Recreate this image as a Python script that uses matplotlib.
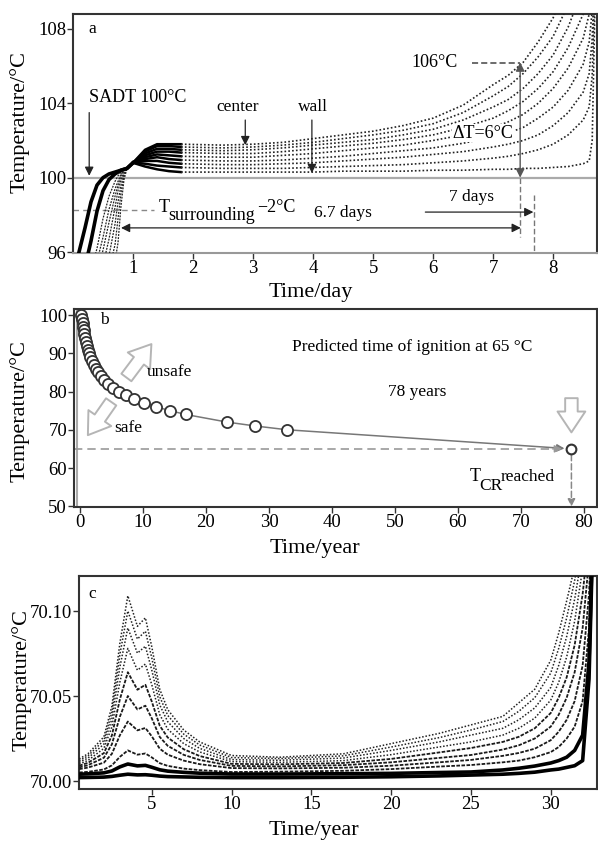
import matplotlib
matplotlib.use('Agg')
import matplotlib.pyplot as plt
from matplotlib.patches import FancyArrowPatch

plt.rcParams['font.family'] = ['Liberation Serif', 'DejaVu Serif']

# ---------------- Panel a data (time in days, temperature in °C) ----------------
time_a = [0.1, 0.2, 0.3, 0.4, 0.5, 0.6, 0.7, 0.75, 0.8, 0.85, 0.9, 1.0,
          1.2, 1.4, 1.6, 1.8, 2.5, 3.0, 3.5, 4.0, 4.5, 5.0, 5.5, 6.0, 6.5,
          7.0, 7.25, 7.5, 7.75, 8.0, 8.25, 8.5, 8.6, 8.65, 8.7]
temp_a_center = [90.0, 90.8, 91.5, 92.2, 93.2, 94.3, 95.5, 96.5, 98.5, 99.9, 100.5, 100.8,
                 101.5, 101.8, 101.8, 101.8, 101.75, 101.8, 101.9, 102.1, 102.3, 102.5, 102.8, 103.2, 103.9,
                 105.0, 105.5, 106.2, 107.3, 108.6, 110.5, 113.0, 114.0, 115.0, 118.0]
temp_a_1 = [90.5, 91.3, 92.0, 92.7, 93.8, 95.0, 96.4, 97.8, 99.2, 100.1, 100.5, 100.8,
            101.4, 101.7, 101.7, 101.65, 101.6, 101.65, 101.75, 101.9, 102.1, 102.3, 102.55, 102.9, 103.5,
            104.4, 104.9, 105.6, 106.5, 107.6, 109.3, 111.5, 113.0, 114.0, 117.0]
temp_a_2 = [91.0, 91.8, 92.5, 93.3, 94.5, 95.8, 97.5, 98.7, 99.6, 100.2, 100.5, 100.8,
            101.3, 101.55, 101.55, 101.5, 101.45, 101.5, 101.6, 101.75, 101.9, 102.05, 102.3, 102.6, 103.1,
            103.8, 104.2, 104.8, 105.6, 106.6, 108.1, 110.2, 111.5, 113.0, 116.0]
temp_a_3 = [91.5, 92.3, 93.0, 94.0, 95.3, 96.7, 98.4, 99.3, 99.9, 100.3, 100.5, 100.8,
            101.2, 101.4, 101.4, 101.35, 101.3, 101.3, 101.4, 101.55, 101.7, 101.85, 102.05, 102.3, 102.7,
            103.2, 103.6, 104.1, 104.8, 105.7, 107.0, 108.8, 110.2, 112.0, 115.0]
temp_a_4 = [92.0, 92.8, 93.6, 94.8, 96.1, 97.6, 99.0, 99.6, 100.1, 100.4, 100.5, 100.8,
            101.1, 101.25, 101.2, 101.15, 101.1, 101.1, 101.2, 101.3, 101.45, 101.6, 101.75, 102.0, 102.3,
            102.7, 103.0, 103.4, 104.0, 104.8, 105.9, 107.5, 108.8, 110.5, 114.0]
temp_a_5 = [92.5, 93.3, 94.2, 95.5, 96.8, 98.3, 99.4, 99.8, 100.2, 100.4, 100.5, 100.8,
            101.0, 101.1, 101.0, 100.95, 100.9, 100.9, 100.95, 101.05, 101.15, 101.3, 101.45, 101.6, 101.85,
            102.2, 102.4, 102.7, 103.2, 103.8, 104.7, 106.1, 107.3, 109.0, 113.0]
temp_a_6 = [93.0, 94.0, 95.0, 96.2, 97.8, 99.0, 99.8, 100.1, 100.3, 100.45, 100.5, 100.8,
            100.9, 100.9, 100.8, 100.75, 100.7, 100.7, 100.75, 100.8, 100.9, 101.0, 101.1, 101.25, 101.4,
            101.65, 101.8, 102.0, 102.3, 102.8, 103.5, 104.6, 105.6, 107.5, 112.0]
temp_a_7 = [94.0, 95.2, 96.6, 98.2, 99.3, 99.9, 100.2, 100.3, 100.4, 100.45, 100.5, 100.8,
            100.75, 100.65, 100.6, 100.55, 100.5, 100.5, 100.5, 100.55, 100.6, 100.65, 100.7, 100.8, 100.9,
            101.05, 101.15, 101.3, 101.5, 101.8, 102.3, 103.1, 103.8, 105.5, 111.0]
temp_a_wall = [96.0, 97.3, 98.7, 99.6, 100.0, 100.2, 100.3, 100.35, 100.4, 100.45, 100.5, 100.8,
               100.6, 100.45, 100.35, 100.3, 100.3, 100.3, 100.3, 100.3, 100.35, 100.35, 100.35, 100.4, 100.4,
               100.45, 100.45, 100.5, 100.5, 100.55, 100.6, 100.75, 100.9, 102.0, 110.0]
curves_a = [temp_a_center, temp_a_1, temp_a_2, temp_a_3, temp_a_4,
            temp_a_5, temp_a_6, temp_a_7, temp_a_wall]

# ---------------- Panel b data (time in years, temperature in °C) ----------------
time_b = [0.2, 0.3, 0.4, 0.5, 0.6, 0.7, 0.85, 1.0, 1.1, 1.3, 1.45, 1.65, 1.9, 2.2, 2.5,
          2.8, 3.3, 3.8, 4.5, 5.3, 6.2, 7.3, 8.6, 10.2, 12.1, 14.3, 16.8, 23.4, 27.8, 32.9]
temp_b = [100, 99, 98, 97, 96, 95, 94, 93, 92, 91, 90, 89, 88, 87, 86,
          85, 84, 83, 82, 81, 80, 79, 78, 77, 76, 75, 74, 72, 71, 70]
ignition_time = 78
ignition_temp = 65

# ---------------- Panel c data (time in years, temperature in °C) ----------------
time_c = [0.45, 1, 2, 2.5, 3, 3.5, 4.1, 4.6, 5, 5.5, 6, 7, 8, 10,
          13, 17, 20, 23, 25, 27, 28, 29, 30, 30.5, 31, 31.5, 32, 32.4, 32.8]
temp_c_center = [70.013, 70.016, 70.026, 70.044, 70.081, 70.109, 70.091, 70.096, 70.079, 70.054, 70.042, 70.030, 70.023, 70.015,
                 70.014, 70.016, 70.022, 70.028, 70.033, 70.038, 70.046, 70.054, 70.071, 70.087, 70.106, 70.126, 70.150, 70.170, 70.200]
temp_c_1 = [70.012, 70.0148, 70.0239, 70.0404, 70.0744, 70.100, 70.0835, 70.0881, 70.0725, 70.0496, 70.0386, 70.0276, 70.0212, 70.0138,
            70.0132, 70.0148, 70.020, 70.0255, 70.030, 70.035, 70.041, 70.049, 70.0635, 70.078, 70.096, 70.118, 70.145, 70.165, 70.200]
temp_c_2 = [70.011, 70.0135, 70.0217, 70.0365, 70.067, 70.090, 70.0752, 70.0793, 70.0653, 70.0447, 70.0349, 70.025, 70.0192, 70.0126,
            70.0122, 70.0135, 70.018, 70.023, 70.027, 70.031, 70.036, 70.043, 70.055, 70.068, 70.085, 70.107, 70.135, 70.160, 70.200]
temp_c_3 = [70.010, 70.0121, 70.0192, 70.0319, 70.0581, 70.078, 70.0652, 70.0688, 70.0567, 70.039, 70.0305, 70.022, 70.0171, 70.0114,
            70.011, 70.012, 70.0155, 70.020, 70.023, 70.027, 70.031, 70.037, 70.0476, 70.058, 70.073, 70.094, 70.125, 70.155, 70.200]
temp_c_4 = [70.009, 70.0107, 70.0164, 70.0268, 70.048, 70.064, 70.0537, 70.0566, 70.0468, 70.0325, 70.0256, 70.0187, 70.0147, 70.0101,
            70.0098, 70.0106, 70.013, 70.0168, 70.0194, 70.023, 70.026, 70.031, 70.040, 70.049, 70.061, 70.080, 70.110, 70.145, 70.200]
temp_c_5 = [70.008, 70.0093, 70.0137, 70.0216, 70.0378, 70.050, 70.0421, 70.0443, 70.0369, 70.0259, 70.0207, 70.0154, 70.0124, 70.0089,
            70.0086, 70.0093, 70.011, 70.0136, 70.0153, 70.0185, 70.021, 70.025, 70.032, 70.039, 70.049, 70.064, 70.090, 70.130, 70.200]
temp_c_6 = [70.007, 70.0079, 70.0108, 70.016, 70.0269, 70.035, 70.0298, 70.0312, 70.0263, 70.019, 70.0155, 70.012, 70.0099, 70.0076,
            70.0074, 70.0078, 70.009, 70.011, 70.0124, 70.0148, 70.0165, 70.019, 70.024, 70.029, 70.036, 70.047, 70.068, 70.110, 70.200]
temp_c_7 = [70.005, 70.0054, 70.0068, 70.0092, 70.0142, 70.018, 70.0155, 70.0162, 70.0139, 70.0105, 70.0089, 70.0073, 70.0064, 70.0053,
            70.0055, 70.006, 70.007, 70.0085, 70.0094, 70.011, 70.012, 70.014, 70.017, 70.020, 70.025, 70.032, 70.047, 70.090, 70.200]
temp_c_8 = [70.004, 70.0042, 70.0048, 70.0059, 70.0083, 70.010, 70.0089, 70.0092, 70.0081, 70.0066, 70.0058, 70.0051, 70.0046, 70.0041,
            70.0041, 70.0043, 70.0045, 70.005, 70.0053, 70.0065, 70.0075, 70.0088, 70.0106, 70.012, 70.014, 70.018, 70.027, 70.070, 70.200]
temp_c_wall = [70.002, 70.0021, 70.0023, 70.0027, 70.0034, 70.004, 70.0036, 70.0037, 70.0034, 70.0029, 70.0026, 70.0024, 70.0022, 70.002,
               70.002, 70.0022, 70.0025, 70.003, 70.0035, 70.004, 70.0045, 70.0052, 70.0065, 70.007, 70.008, 70.009, 70.012, 70.060, 70.200]
curves_c = [temp_c_center, temp_c_1, temp_c_2, temp_c_3, temp_c_4,
            temp_c_5, temp_c_6, temp_c_7, temp_c_8, temp_c_wall]

# ---------------- Figure ----------------
W, H = 598, 841
fig = plt.figure(figsize=(W / 100, H / 100), dpi=100)

def rect(l, t, r, b):
    return [l / W, 1 - b / H, (r - l) / W, (b - t) / H]

ax_a = fig.add_axes(rect(73, 14, 597, 253))
ax_b = fig.add_axes(rect(74, 309, 597, 507))
ax_c = fig.add_axes(rect(79, 576, 597, 789))

TICK = 13.5
ANN = 12.5
LAB = 16
SPINE = '#333333'

for ax in (ax_a, ax_b, ax_c):
    for s in ax.spines.values():
        s.set_color(SPINE)
        s.set_linewidth(1.5)
    ax.tick_params(direction='out', length=4, width=1, labelsize=TICK, color=SPINE, pad=1)

# ---------- Panel a ----------
ax = ax_a
ax.set_xlim(0, 8.73)
ax.set_ylim(95.95, 108.8)
ax.set_xticks([1, 2, 3, 4, 5, 6, 7, 8])
ax.set_yticks([96, 100, 104, 108])
ax.spines['bottom'].set_color('#999999')
ax.axhline(100, color='#aaaaaa', lw=1.6, zorder=1)
i_rise = time_a.index(1.0)
i_plat = time_a.index(1.8)
n = len(curves_a)
for k, temps in enumerate(curves_a):
    # rising stage
    if k >= n - 2:
        ax.plot(time_a[:i_rise + 1], temps[:i_rise + 1], color='black', lw=2.6, zorder=3)
    else:
        ax.plot(time_a[:i_rise + 1], temps[:i_rise + 1], color='#222222', lw=0.9,
                ls=(0, (1.5, 1)), zorder=3)
    # crossing / plateau onset
    ax.plot(time_a[i_rise:i_plat + 1], temps[i_rise:i_plat + 1], color='black', lw=1.8, zorder=3)
    # later stage dotted
    ax.plot(time_a[i_plat:], temps[i_plat:], color='#222222', lw=1.2,
            ls=(0, (1, 1.3)), zorder=3)

ax.text(0.25, 108.0, 'a', fontsize=ANN, ha='left', va='center')
ax.text(0.27, 104.33, 'SADT 100°C', fontsize=ANN + 0.5, ha='left', va='center')
arr = dict(arrowstyle='-|>', color='#222222', lw=0.9, mutation_scale=13, shrinkA=0, shrinkB=0)
ax.annotate('', xy=(0.27, 100.1), xytext=(0.27, 103.5), arrowprops=arr)
ax.text(2.75, 103.8, 'center', fontsize=ANN, ha='center', va='center')
ax.annotate('', xy=(2.87, 101.75), xytext=(2.87, 103.1), arrowprops=arr)
ax.text(4.0, 103.8, 'wall', fontsize=ANN, ha='center', va='center')
ax.annotate('', xy=(3.98, 100.25), xytext=(3.98, 103.1), arrowprops=arr)

ax.plot([0, 1.35], [98.26, 98.26], color='#888888', lw=1, ls=(0, (4, 3)))
ax.text(1.42, 98.42, 'T', fontsize=ANN + 0.5, ha='left', va='center')
ax.text(1.58, 97.95, 'surrounding', fontsize=ANN + 0.5, ha='left', va='center')
ax.text(3.07, 98.42, '\u22122°C', fontsize=ANN + 0.5, ha='left', va='center')

ax.annotate('', xy=(0.8, 97.3), xytext=(7.46, 97.3),
            arrowprops=dict(arrowstyle='<|-|>', color='#222222', lw=0.9, mutation_scale=13,
                            shrinkA=0, shrinkB=0))
ax.text(4.5, 98.1, '6.7 days', fontsize=ANN, ha='center', va='center')
ax.annotate('', xy=(7.67, 98.15), xytext=(5.87, 98.15), arrowprops=arr)
ax.text(6.64, 98.97, '7 days', fontsize=ANN, ha='center', va='center')
ax.plot([7.45, 7.45], [100.0, 96.8], color='#777777', lw=1, ls=(0, (4, 2)))
ax.plot([7.68, 7.68], [99.06, 95.95], color='#777777', lw=1, ls=(0, (4, 2)))

ax.text(6.02, 106.2, '106°C', fontsize=ANN + 0.5, ha='center', va='center')
ax.plot([6.65, 7.45], [106.15, 106.15], color='#444444', lw=1.1, ls=(0, (4, 2)))
ax.annotate('', xy=(7.45, 106.2), xytext=(7.45, 100.0),
            arrowprops=dict(arrowstyle='<|-|>', color='#555555', lw=1.0, mutation_scale=13,
                            shrinkA=0, shrinkB=0))
ax.text(6.83, 102.4, '\u0394T=6°C', fontsize=ANN + 0.5, ha='center', va='center',
        bbox=dict(facecolor='white', edgecolor='none', pad=0.5))

# ---------- Panel b ----------
ax = ax_b
ax.set_xlim(-0.95, 82.06)
ax.set_ylim(49.8, 101.6)
ax.set_xticks(range(0, 81, 10))
ax.set_yticks(range(50, 101, 10))
ax.axvline(-0.45, color='#aaaaaa', lw=1.5, zorder=1)
ax.axhline(ignition_temp, xmin=0, xmax=0.93, color='#999999', lw=1.2, ls=(0, (5, 3)), zorder=1)
ax.plot(time_b, temp_b, color='#777777', lw=1.1, zorder=2)
ax.annotate('', xy=(ignition_time, ignition_temp), xytext=(time_b[-1], temp_b[-1]),
            arrowprops=dict(arrowstyle='-|>', color='#777777', lw=1.1, mutation_scale=11,
                            shrinkA=0, shrinkB=5))
ax.plot(time_b, temp_b, ls='none', marker='o', ms=8, mfc='white', mec='#333333', mew=1.3, zorder=4)
ax.plot([ignition_time], [ignition_temp], ls='none', marker='o', ms=7, mfc='white',
        mec='#333333', mew=1.5, zorder=4)
ax.annotate('', xy=(ignition_time, 49.9), xytext=(ignition_time, 63.5),
            arrowprops=dict(arrowstyle='-|>', color='#888888', lw=1.1, ls=(0, (4, 2)),
                            mutation_scale=11, shrinkA=0, shrinkB=0))
ax.annotate('', xy=(ignition_time - 1.5, ignition_temp + 0.05), xytext=(ignition_time - 3, ignition_temp),
            arrowprops=dict(arrowstyle='-|>', color='#999999', lw=1, mutation_scale=11,
                            shrinkA=0, shrinkB=0))

hollow = dict(arrowstyle='simple,head_length=0.75,head_width=1.0,tail_width=0.45',
              mutation_scale=20, facecolor='white', edgecolor='#b5b5b5', lw=1.4, zorder=3)
ax.add_patch(FancyArrowPatch((7.1, 83.1), (11.6, 93.0), **hollow))
ax.add_patch(FancyArrowPatch((5.2, 77.9), (1.0, 68.0), **hollow))
ax.add_patch(FancyArrowPatch((78, 79.0), (78, 68.6), **hollow))

ax.text(3.2, 98.7, 'b', fontsize=ANN, ha='left', va='center')
ax.text(33.65, 91.6, 'Predicted time of ignition at 65 °C', fontsize=ANN, ha='left', va='center')
ax.text(53.5, 79.9, '78 years', fontsize=ANN, ha='center', va='center')
ax.text(10.6, 85.1, 'unsafe', fontsize=ANN, ha='left', va='center')
ax.text(5.4, 70.5, 'safe', fontsize=ANN, ha='left', va='center')
ax.text(61.9, 57.65, 'T', fontsize=ANN + 0.5, ha='left', va='center')
ax.text(63.3, 55.4, 'CR', fontsize=ANN, ha='left', va='center')
ax.text(66.8, 57.65, 'reached', fontsize=ANN, ha='left', va='center')

# ---------- Panel c ----------
ax = ax_c
ax.set_xlim(0.44, 32.9)
ax.set_ylim(69.9953, 70.1206)
ax.set_xticks([5, 10, 15, 20, 25, 30])
ax.set_yticks([70.00, 70.05, 70.10])
ax.set_yticklabels(['70.00', '70.05', '70.10'])
m = len(curves_c)
for k, temps in enumerate(curves_c):
    if k >= m - 2:
        ax.plot(time_c, temps, color='black', lw=2.6, zorder=3)
    elif k >= 4:
        ax.plot(time_c, temps, color='#1a1a1a', lw=1.3, ls=(0, (2, 0.8)), zorder=3)
    else:
        ax.plot(time_c, temps, color='#222222', lw=1.1, ls=(0, (1, 1.2)), zorder=3)
ax.text(1.0, 70.11, 'c', fontsize=ANN, ha='left', va='center')

# ---------- axis labels ----------
def ftext(x, y, s, **kw):
    fig.text(x / W, 1 - y / H, s, **kw)

ftext(20, 122, 'Temperature/°C', fontsize=LAB, rotation=90, ha='center', va='center')
ftext(311, 292, 'Time/day', fontsize=LAB, ha='center', va='center')
ftext(20, 411, 'Temperature/°C', fontsize=LAB, rotation=90, ha='center', va='center')
ftext(315, 549, 'Time/year', fontsize=LAB, ha='center', va='center')
ftext(22, 680, 'Temperature/°C', fontsize=LAB, rotation=90, ha='center', va='center')
ftext(314, 830, 'Time/year', fontsize=LAB, ha='center', va='center')

fig.savefig('out.png', dpi=100)
